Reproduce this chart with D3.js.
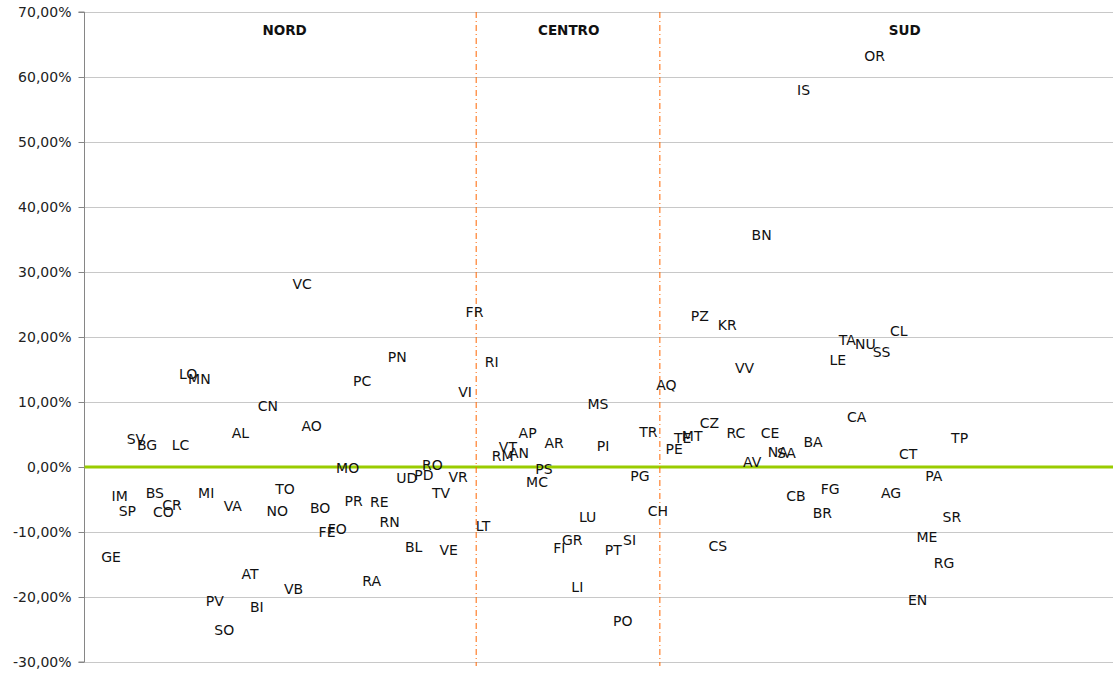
<!DOCTYPE html>
<html>
<head>
<meta charset="utf-8">
<script src="https://cdn.jsdelivr.net/npm/d3@7"></script>
<style>
  html, body { margin: 0; padding: 0; background: #fff; }
  svg { display: block; font-family: "DejaVu Sans", Verdana, sans-serif; }
</style>
</head>
<body>
<svg id="chart" width="1115" height="674"></svg>
<script>
// ---- DATA ----
const provinces = [
  "GE","IM","SP","SV","BG","BS","CO","CR","LC","LO","MN","MI","PV","SO","VA","AL","AT","BI","CN","NO","TO","VB","VC","AO",
  "BO","FE","FO","MO","PR","PC","RA","RE","RN","PN","UD","BL","PD","RO","TV","VE","VR","VI",
  "FR","LT","RI","RM","VT","AN","AP","MC","PS","AR","FI","GR","LI","LU","MS","PI","PT","PO","SI","PG","TR",
  "CH","AQ","PE","TE","MT","PZ","CZ","CS","KR","RC","VV","AV","BN","CE","NA","SA","CB","IS","BA","BR","FG","LE","TA",
  "CA","NU","OR","SS","AG","CL","CT","EN","ME","PA","RG","SR","TP"
];
const positions = [
  3.1,4.1,5.0,6.0,7.3,8.2,9.2,10.2,11.2,12.1,13.4,14.2,15.2,16.3,17.3,18.2,19.3,20.1,21.4,22.5,23.4,24.4,25.4,26.5,
  27.5,28.3,29.5,30.7,31.4,32.4,33.5,34.4,35.6,36.5,37.6,38.4,39.6,40.6,41.6,42.5,43.6,44.4,
  45.5,46.5,47.5,48.8,49.4,50.7,51.7,52.8,53.6,54.8,55.4,56.9,57.5,58.7,59.9,60.5,61.7,62.8,63.6,64.8,65.8,
  66.9,67.9,68.8,69.8,70.9,71.8,72.9,73.9,75.0,76.0,77.0,77.9,79.0,80.0,80.9,81.9,83.0,83.9,85.0,86.1,87.0,87.9,89.0,
  90.1,91.1,92.2,93.0,94.1,95.0,96.1,97.2,98.3,99.1,100.3,101.2,102.1
];
const variations = [ // percent
  -13.9,-4.5,-6.8,4.3,3.4,-4.0,-6.9,-5.9,3.4,14.3,13.5,-4.0,-20.6,-25.1,-6.0,5.3,-16.5,-21.5,9.4,-6.7,-3.4,-18.8,28.2,6.3,
  -6.3,-10.0,-9.5,-0.2,-5.2,13.3,-17.5,-5.4,-8.5,16.9,-1.7,-12.3,-1.3,0.3,-4.0,-12.8,-1.5,11.5,
  23.8,-9.1,16.2,1.7,3.1,2.2,5.3,-2.3,-0.3,3.7,-12.4,-11.2,-18.5,-7.7,9.7,3.2,-12.8,-23.7,-11.2,-1.4,5.4,
  -6.7,12.6,2.8,4.5,4.7,23.3,6.8,-12.1,21.8,5.2,15.3,0.7,35.7,5.2,2.3,2.1,-4.5,58.0,3.9,-7.0,-3.4,16.4,19.5,
  7.7,18.9,63.3,17.7,-4.0,21.0,2.0,-20.5,-10.7,-1.4,-14.8,-7.7,4.5
];
const areaNames = ["NORD","CENTRO","SUD"];
const areaLabelPos = [23.35, 56.5, 95.7];
const areaLabelY = [67.2, 67.2, 67.2];
const areaBoundaries = [45.7, 67.13];
const yTicks = [-30,-20,-10,0,10,20,30,40,50,60,70];

// ---- CHART ----
(function () {
const svg = d3.select("#chart");
const pLeft = 84.5, pRight = 1113, pTop = 12, pBottom = 662;
const x = d3.scaleLinear().domain([0, 120]).range([pLeft, pRight]);
const y = d3.scaleLinear().domain([-30, 70]).range([pBottom, pTop]);

const itLocale = d3.formatLocale({decimal: ",", thousands: ".", grouping: [3], currency: ["", " €"], minus: "-"});
const fmt = v => itLocale.format(".2f")(v) + "%";

// gridlines
svg.append("g").selectAll("line").data(yTicks.filter(t => t !== 0)).join("line")
  .attr("x1", pLeft).attr("x2", pRight)
  .attr("y1", d => Math.round(y(d)) + 0.5).attr("y2", d => Math.round(y(d)) + 0.5)
  .attr("stroke", "#c8c8c8").attr("stroke-width", 1);

// y axis
const yAxis = d3.axisLeft(y).tickValues(yTicks).tickFormat(fmt).tickSize(6).tickPadding(7);
const ag = svg.append("g").attr("transform", `translate(${pLeft},0)`).call(yAxis);
ag.select(".domain").attr("stroke", "#868686").attr("d", `M-6,${pTop}H0V${pBottom}H-6`);
ag.selectAll(".tick line").attr("stroke", "#868686");
ag.selectAll(".tick text").attr("font-size", 14).attr("fill", "#222").attr("font-family", "DejaVu Sans, Verdana, sans-serif");

// zero line
svg.append("line")
  .attr("x1", pLeft).attr("x2", pRight)
  .attr("y1", y(0)).attr("y2", y(0))
  .attr("stroke", "#99cc00").attr("stroke-width", 3);

// area boundaries
svg.append("g").selectAll("line").data(areaBoundaries).join("line")
  .attr("x1", d => x(d)).attr("x2", d => x(d))
  .attr("y1", pTop).attr("y2", pBottom + 4)
  .attr("stroke", "#ff6600").attr("stroke-width", 1)
  .attr("stroke-dasharray", "6,3,1,3");

// area labels
svg.append("g").selectAll("text").data(areaNames).join("text")
  .attr("x", (d, i) => x(areaLabelPos[i]))
  .attr("y", (d, i) => y(areaLabelY[i]))
  .attr("text-anchor", "middle").attr("dominant-baseline", "central")
  .attr("font-size", 13.5).attr("font-weight", "bold").attr("fill", "#111")
  .text(d => d);

// province labels
svg.append("g").selectAll("text").data(provinces).join("text")
  .attr("x", (d, i) => x(positions[i]))
  .attr("y", (d, i) => y(variations[i]))
  .attr("text-anchor", "middle").attr("dominant-baseline", "central")
  .attr("font-size", 14).attr("fill", "#111")
  .text(d => d);
})();
</script>
</body>
</html>
